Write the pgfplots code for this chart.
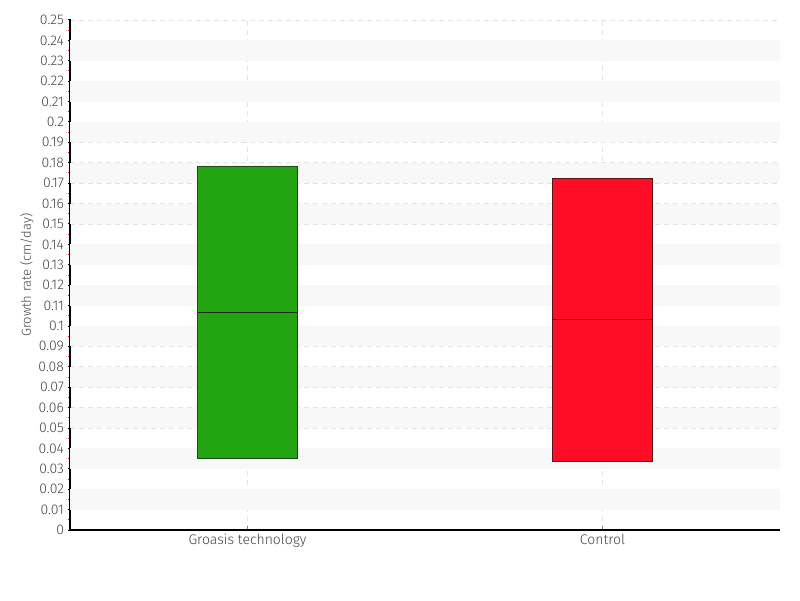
\documentclass[border=0pt]{standalone}
\usepackage{fontspec}
\setmainfont{Fira Sans}[UprightFont=* Light]
\usepackage{pgfplots}
\pgfplotsset{compat=1.18}
\definecolor{boxgreen}{RGB}{34,165,17}
\definecolor{edgegreen}{RGB}{30,70,25}
\definecolor{boxred}{RGB}{255,13,39}
\definecolor{edgered}{RGB}{90,20,28}
\definecolor{band}{RGB}{248,248,248}
\definecolor{gridc}{RGB}{228,228,228}
\definecolor{labc}{RGB}{68,68,68}
\begin{document}
\begin{tikzpicture}
\pgfplotsset{set layers}
\begin{axis}[
  at={(0,0)}, anchor=south west,
  scale only axis, width=710pt, height=510pt,
  xmin=-0.5, xmax=1.5, ymin=0, ymax=0.25,
  axis lines*=left,
  axis line style={black, line width=1.3pt},
  xtick={0,1}, xticklabels={Groasis technology,Control},
  ytick distance=0.01, minor y tick num=1,
  tick align=outside,
  major tick length=3.5pt,
  minor tick length=2pt,
  major x tick style={gray, line width=1pt, yshift=4pt},
  major y tick style={black, line width=1pt, xshift=1.5pt},
  minor y tick style={red, line width=1pt},
  xmajorgrids, ymajorgrids,
  grid style={gridc, dashed, line width=0.8pt, dash pattern=on 5pt off 4pt},
  ticklabel style={font=\fontsize{14}{14}\selectfont, text=labc},
  yticklabel style={xshift=1pt},
  xticklabel style={yshift=3pt},
  /pgf/number format/.cd, fixed, precision=2, assume math mode=true,
  /pgfplots/.cd,
  ylabel={Growth rate (cm/day)},
  ylabel style={font=\fontsize{13}{13}\selectfont, text=labc, yshift=-2pt},
  clip=false,
]
\pgfplotsinvokeforeach{1,3,5,7,9,11,13,15,17,19,21,23}{
  \fill[band, on layer=axis background] (axis cs:-0.5,#1*0.01) rectangle (axis cs:1.5,#1*0.01+0.01);
}
% Groasis technology: min 0.0353, median 0.1069, max 0.1784
\addplot[fill=boxgreen, draw=edgegreen, line width=0.9pt] coordinates
  {(-0.1408,0.0353) (0.1408,0.0353) (0.1408,0.1784) (-0.1408,0.1784)} -- cycle;
\addplot[draw=black!85, line width=0.8pt] coordinates
  {(-0.1408,0.1069) (0.1408,0.1069)};
% Control: min 0.0338, median 0.1034, max 0.1721
\addplot[fill=boxred, draw=edgered, line width=0.9pt] coordinates
  {(0.8592,0.0338) (1.1408,0.0338) (1.1408,0.1721) (0.8592,0.1721)} -- cycle;
\addplot[draw=black!85, line width=0.8pt] coordinates
  {(0.8592,0.1034) (1.1408,0.1034)};
\end{axis}
\path[use as bounding box] (-70pt,-70pt) rectangle (730pt,530pt);
\end{tikzpicture}
\end{document}
